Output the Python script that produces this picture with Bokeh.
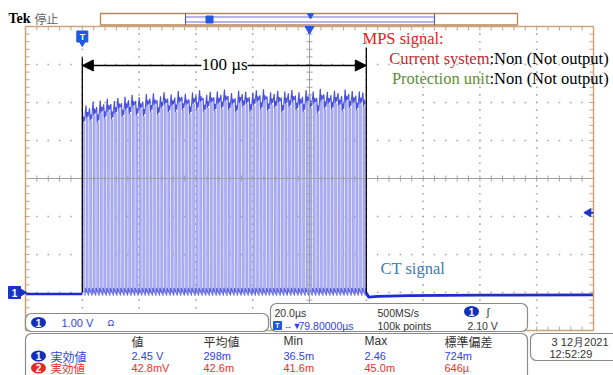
import numpy as np
from bokeh.plotting import figure
from bokeh.models import Range1d, Label, Arrow, NormalHead
from bokeh.embed import file_html
from bokeh.resources import INLINE

# ---------------- data ----------------
screen_t_us = [-20.0, 180.0]      # 10 div x 20 us
screen_v = [-1.0, 7.0]            # 8 div x 1 V, ground at -3 div
burst_start_us = 0.0
burst_end_us = 100.0
pulse_peak_v = [
    4.78, 4.92, 4.85, 5.02, 4.88, 5.05, 4.95, 5.10, 4.96, 5.04,
    5.12, 4.98, 5.15, 5.06, 5.20, 5.04, 5.14, 5.02, 5.22, 5.10,
    5.24, 5.06, 5.16, 5.27, 5.10, 5.21, 5.13, 5.30, 5.15, 5.23,
    5.08, 5.26, 5.18, 5.32, 5.12, 5.20, 5.28, 5.14, 5.29, 5.20,
    5.34, 5.17, 5.25, 5.11, 5.31, 5.22, 5.28, 5.14, 5.26, 5.32,
    5.19, 5.35, 5.16, 5.27, 5.22, 5.31, 5.13, 5.29, 5.24, 5.33,
    5.18, 5.27, 5.15, 5.32, 5.23, 5.29, 5.12, 5.36, 5.21, 5.28,
    5.19, 5.31, 5.25, 5.17, 5.34, 5.22, 5.30, 5.18, 5.29, 5.26]
pulse_dip_v = [
    4.46, 4.58, 4.52, 4.66, 4.48, 4.72, 4.58, 4.76, 4.56, 4.70,
    4.82, 4.62, 4.80, 4.70, 4.88, 4.66, 4.82, 4.64, 4.90, 4.76,
    4.92, 4.68, 4.85, 4.94, 4.74, 4.90, 4.76, 4.98, 4.80, 4.92,
    4.70, 4.96, 4.82, 5.00, 4.76, 4.86, 4.98, 4.78, 4.96, 4.84,
    5.02, 4.80, 4.94, 4.74, 4.98, 4.88, 4.96, 4.76, 4.92, 5.00,
    4.82, 5.03, 4.78, 4.94, 4.86, 4.98, 4.74, 4.96, 4.88, 5.01,
    4.80, 4.92, 4.76, 4.99, 4.86, 4.96, 4.72, 5.03, 4.84, 4.95,
    4.82, 4.98, 4.90, 4.78, 5.01, 4.86, 4.97, 4.80, 4.95, 4.90]
ring_low_v = -0.08
ring_high_v = 0.12
pre_t_us = [-20.0, 0.0]
pre_v = [-0.04, -0.04]
post_t_us = [100.0, 100.8, 104.0, 115.0, 140.0, 180.0]
post_v = [0.0, -0.12, -0.10, -0.08, -0.07, -0.06]
trigger_level_v = 2.10
horizontal_pos_us = 80.0

ch1_scale_text = "1.00 V"
timebase_text = "20.0µs"
delay_text = "79.80000µs"
sample_rate_text = "500MS/s"
record_text = "100k points"
trigger_text = "2.10 V"
meas_headers = ["値", "平均値", "Min", "Max", "標準偏差"]
meas_label = "実効値"
meas_ch1 = ["2.45 V", "298m", "36.5m", "2.46", "724m"]
meas_ch2 = ["42.8mV", "42.6m", "41.6m", "45.0m", "646µ"]
date_text = "3 12月2021"
time_text = "12:52:29"

# ---------------- pixel helpers (reference screenshot pixels) ----------------
PX_US = (593 - 25) / (screen_t_us[1] - screen_t_us[0])
PX_V = (330 - 26) / (screen_v[1] - screen_v[0])


def X(px):
    return screen_t_us[0] + (px - 25) / PX_US


def Y(py):
    return screen_v[1] - (py - 26) / PX_V


def W(px):
    return px / PX_US


def H(px):
    return px / PX_V


p = figure(width=613, height=375, x_range=Range1d(X(0), X(613)), y_range=Range1d(Y(375), Y(0)),
           output_backend="svg", toolbar_location=None, min_border=0,
           x_axis_type=None, y_axis_type=None)
p.outline_line_color = None
p.background_fill_color = "white"
p.border_fill_color = "white"

T0, T1 = screen_t_us
V0, V1 = screen_v
TAN = "#c9a47c"
GRID = "#a8a8a8"

mt = np.arange(T0, T1 + 0.01, 4.0)
mv = np.arange(V0, V1 + 0.001, 0.2)

# dotted graticule (dots at every minor division along each major line)
vt = [t for t in np.arange(T0 + 20, T1, 20) if abs(t - horizontal_pos_us) > 1e-6]
hv = [v for v in np.arange(V0 + 1, V1, 1) if abs(v - 3.0) > 1e-6]
gx = [t for t in vt for v in mv] + [t for v in hv for t in mt]
gy = [v for t in vt for v in mv] + [v for v in hv for t in mt]
p.scatter(x=gx, y=gy, marker="square", size=1.6, color=GRID, line_color=None)

# waveform
n = len(pulse_peak_v)
period = (burst_end_us - burst_start_us) / n
tx, ty = list(pre_t_us), list(pre_v)
top_x, top_y, bot_x, bot_y = [], [], [], []
ql, qr, qt = [], [], []
for i, (pk, dp) in enumerate(zip(pulse_peak_v, pulse_dip_v)):
    t0 = burst_start_us + i * period
    fr = [0.0, 0.04, 0.22, 0.45, 0.62, 0.68, 0.76, 0.88]
    vals = [0.0, pk, dp, (pk + dp) / 2, dp + 0.05, dp, ring_low_v, ring_high_v]
    for f, v in zip(fr, vals):
        tx.append(t0 + f * period)
        ty.append(v)
    for f, v in zip(fr[1:5], vals[1:5]):
        top_x.append(t0 + f * period)
        top_y.append(v)
    for f, v in zip(fr[6:], vals[6:]):
        bot_x.append(t0 + f * period)
        bot_y.append(v)
    ql.append(t0 + 0.01 * period)
    qr.append(t0 + 0.70 * period)
    qt.append(dp)
tx += post_t_us
ty += post_v

p.quad(left=ql, right=qr, top=qt, bottom=[0.0] * n, fill_color="#abaef1", line_color=None)
p.line(tx, ty, line_color="#2a2ee0", line_alpha=0.14, line_width=1)
p.line(top_x, top_y, line_color="#2630d6", line_alpha=0.8, line_width=1.1)
p.line(bot_x, bot_y, line_color="#2630d6", line_alpha=0.6, line_width=1.1)
p.line(pre_t_us, pre_v, line_color="#1f2bd0", line_width=2.6)
p.line(post_t_us, post_v, line_color="#1f2bd0", line_width=2.8)

# centre cross with minor ticks
p.segment(x0=[horizontal_pos_us, T0], x1=[horizontal_pos_us, T1], y0=[V0, 3.0], y1=[V1, 3.0],
          line_color="#a0a0a0", line_width=1)
p.segment(x0=mt, x1=mt, y0=[3.0 - H(3)] * len(mt), y1=[3.0 + H(3)] * len(mt), line_color="#a0a0a0")
p.segment(x0=[horizontal_pos_us - W(3)] * len(mv), x1=[horizontal_pos_us + W(3)] * len(mv), y0=mv, y1=mv,
          line_color="#a0a0a0")

# tan border with ticks
p.segment(x0=[T0, T1, T0, T0], x1=[T0, T1, T1, T1], y0=[V0, V0, V1, V0], y1=[V1, V1, V1, V0],
          line_color=TAN, line_width=1.5)
p.segment(x0=mt, x1=mt, y0=[V1] * len(mt), y1=[V1 - H(4)] * len(mt), line_color=TAN)
p.segment(x0=mt, x1=mt, y0=[V0] * len(mt), y1=[V0 + H(4)] * len(mt), line_color=TAN)
p.segment(x0=[T0] * len(mv), x1=[T0 + W(4)] * len(mv), y0=mv, y1=mv, line_color=TAN)
p.segment(x0=[T1] * len(mv), x1=[T1 - W(4)] * len(mv), y0=mv, y1=mv, line_color=TAN)

# annotation: 100 us
p.segment(x0=[burst_start_us, burst_end_us], x1=[burst_start_us, burst_end_us], y0=[Y(57), Y(47)], y1=[0.0, 0.0],
          line_color="black", line_width=1.3)

# markers
BLUE_M = "#2158e0"
p.scatter(x=[burst_start_us], y=[Y(36)], marker="square", size=11, color=BLUE_M)
p.scatter(x=[burst_start_us], y=[Y(42)], marker="triangle", angle=np.pi, size=7, color=BLUE_M)
p.scatter(x=[horizontal_pos_us], y=[Y(28.5)], marker="triangle", angle=np.pi, size=9, color=BLUE_M)
p.scatter(x=[X(588)], y=[trigger_level_v], marker="triangle", angle=np.pi / 2, size=8, color="#1a32d0")
p.segment(x0=[X(589)], x1=[X(593)], y0=[trigger_level_v], y1=[trigger_level_v], line_color="#1a32d0", line_width=2)
p.scatter(x=[X(14)], y=[0.0], marker="square", size=12, color="#1a32c8")
p.scatter(x=[X(21)], y=[0.0], marker="triangle", angle=-np.pi / 2, size=9, color="#1a32c8")

# top record bar
p.quad(left=[X(100)], right=[X(517)], top=[Y(13)], bottom=[Y(24.5)], fill_color="white", line_color="#b8875a",
       line_width=1.3)
p.quad(left=[X(185)], right=[X(434)], top=[Y(16.5)], bottom=[Y(21.5)], fill_color="white", line_color="#6a6ae8",
       line_width=1.2)
p.segment(x0=[X(185), X(434)], x1=[X(185), X(434)], y0=[Y(13)] * 2, y1=[Y(24.5)] * 2, line_color="#5a5a8a")
p.scatter(x=[X(209)], y=[Y(19)], marker="square", size=7, color=BLUE_M)
p.scatter(x=[X(310)], y=[Y(15)], marker="triangle", angle=np.pi, size=6, color=BLUE_M)

# info boxes
p.quad(left=[X(25), X(270), X(25), X(530)], right=[X(268), X(527), X(527), X(625)],
       top=[Y(313), Y(303), Y(333), Y(333)], bottom=[Y(331), Y(331), Y(390), Y(360)],
       fill_color="white", line_color="#8a8a8a", line_width=1.2, border_radius=6)

BLUE_T = "#3344d8"
RED_T = "#e2342c"
DARK = "#333333"
ROW_Y = [340.5, 355.5, 367.5]
p.ellipse(x=[X(38), X(471), X(38)], y=[Y(322), Y(311), Y(ROW_Y[1])], width=W(15), height=H(11),
          fill_color="#1530b8", line_color=None)
p.ellipse(x=[X(38)], y=[Y(ROW_Y[2])], width=W(15), height=H(11), fill_color="#e02a22", line_color=None)
p.scatter(x=[X(277)], y=[Y(325)], marker="square", size=8, color=BLUE_M)


def lab(px, py, text, color=DARK, size=11, font="Liberation Sans", align="left", style="normal", bg=None):
    p.add_layout(Label(x=X(px), y=Y(py), text=text, text_color=color, text_font_size=f"{size}px",
                       text_font=font, text_align=align, text_baseline="middle", text_font_style=style,
                       background_fill_color=bg))


CJK = "Noto Sans CJK JP"
SERIF = "Liberation Serif"

lab(8, 18, "Tek", color="black", size=14, font=SERIF, style="bold")
lab(34, 18, "停止", color="#666666", size=12, font=CJK)
lab(82, 36, "T", color="white", size=9, align="center", style="bold")
lab(14, 292, "1", color="white", size=10, align="center", style="bold")

p.add_layout(Arrow(x_start=burst_start_us, x_end=burst_end_us, y_start=Y(65), y_end=Y(65),
                   start=NormalHead(size=11, fill_color="black", line_color="black"),
                   end=NormalHead(size=11, fill_color="black", line_color="black"),
                   line_color="black", line_width=1.3))
lab(224, 64, "100 µs", color="black", size=17, font=SERIF, align="center", bg="white")

lab(362, 38, "MPS signal:", color="#e8201c", size=16.5, font=SERIF)
lab(489, 58, "Current system", color="#c4262e", size=16.5, font=SERIF, align="right")
lab(489, 58, ":Non (Not output)", color="black", size=16.5, font=SERIF)
lab(489, 78, "Protection unit", color="#5e8e3a", size=16.5, font=SERIF, align="right")
lab(489, 78, ":Non (Not output)", color="black", size=16.5, font=SERIF)
lab(380, 268, "CT signal", color="#3c7ab8", size=16.5, font=SERIF)

# box 1
lab(38, 322, "1", color="white", size=10, align="center", style="bold")
lab(61, 322, ch1_scale_text, color=BLUE_T, size=11)
lab(107, 322, "Ω", color=BLUE_T, size=9)
# box 2
lab(274, 312, timebase_text, color=DARK, size=10.5)
lab(277, 325, "T", color="white", size=7, align="center", style="bold")
lab(283, 325, "→▼", color=BLUE_T, size=9)
lab(298, 325, delay_text, color=BLUE_T, size=10.5)
lab(377, 312, sample_rate_text, color=DARK, size=10.5)
lab(377, 325, record_text, color=DARK, size=10.5)
lab(471, 311, "1", color="white", size=10, align="center", style="bold")
lab(486, 311, "∫", color=DARK, size=11)
lab(467, 325, trigger_text, color=DARK, size=10.5)
# measurements
col_x = [131, 203, 283, 364, 444]
for cx, h, a, b in zip(col_x, meas_headers, meas_ch1, meas_ch2):
    lab(cx, ROW_Y[0], h, color=DARK, size=12, font=CJK if h not in ("Min", "Max") else "Liberation Sans")
    lab(cx, ROW_Y[1], a, color=BLUE_T, size=11)
    lab(cx, ROW_Y[2], b, color=RED_T, size=11)
lab(38, ROW_Y[1], "1", color="white", size=10, align="center", style="bold")
lab(38, ROW_Y[2], "2", color="white", size=10, align="center", style="bold")
lab(50, ROW_Y[1], meas_label, color=BLUE_T, size=12, font=CJK)
lab(50, ROW_Y[2], meas_label, color=RED_T, size=11.5, font=CJK)
# date
lab(608, 341, date_text, color=DARK, size=11, align="right")
lab(549, 353, time_text, color=DARK, size=11)

open("out.html", "w").write(file_html(p, INLINE))
